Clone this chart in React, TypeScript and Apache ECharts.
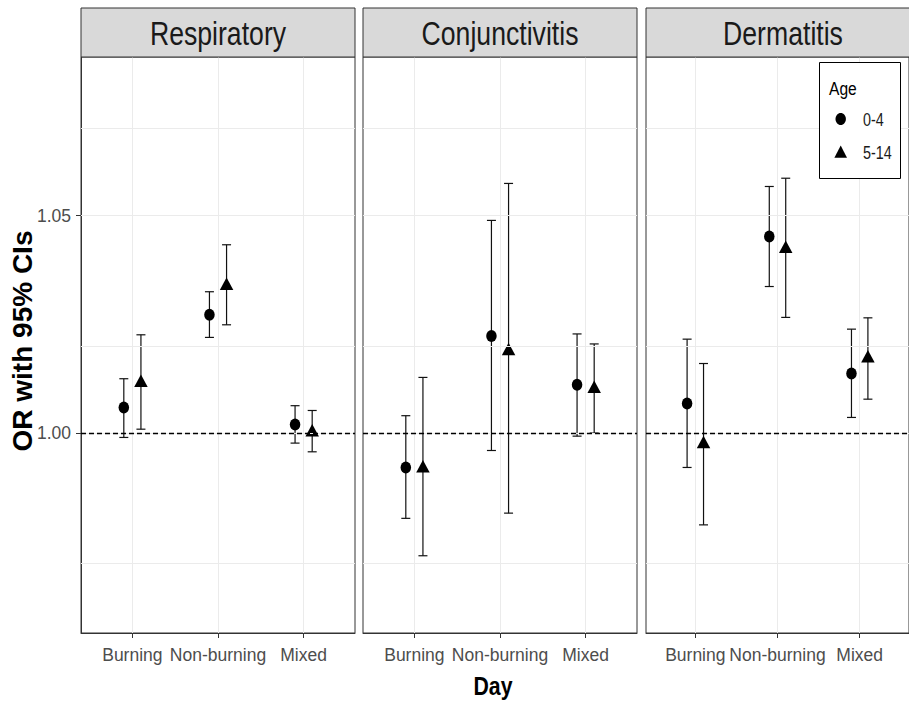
import React, { useEffect, useRef } from 'react';
import * as echarts from 'echarts';

const categories = ['Burning', 'Non-burning', 'Mixed'];
const panels = ['Respiratory', 'Conjunctivitis', 'Dermatitis'];
const ageGroups = ['0-4', '5-14'];
const yTickValues = [1.0, 1.05];
const yGridValues = [0.975, 1.0, 1.025, 1.05, 1.075];
const referenceLine = 1.0;

// Respiratory
const respEst04 = [1.0059, 1.0272, 1.002];
const respLo04 = [0.999, 1.022, 0.9977];
const respHi04 = [1.0125, 1.0325, 1.0063];
const respEst514 = [1.0116, 1.0339, 1.0002];
const respLo514 = [1.0009, 1.0249, 0.9957];
const respHi514 = [1.0226, 1.0433, 1.0052];

// Conjunctivitis
const conjEst04 = [0.9921, 1.0223, 1.0111];
const conjLo04 = [0.9804, 0.996, 0.9993];
const conjHi04 = [1.004, 1.0489, 1.0228];
const conjEst514 = [0.9919, 1.0189, 1.0102];
const conjLo514 = [0.9718, 0.9816, 1.0];
const conjHi514 = [1.0128, 1.0574, 1.0205];

// Dermatitis
const dermEst04 = [1.0068, 1.0452, 1.0137];
const dermLo04 = [0.9921, 1.0337, 1.0036];
const dermHi04 = [1.0216, 1.0567, 1.0239];
const dermEst514 = [0.9975, 1.0424, 1.0172];
const dermLo514 = [0.9789, 1.0266, 1.0078];
const dermHi514 = [1.016, 1.0586, 1.0265];

const panelData = [
  [
    { est: respEst04, lo: respLo04, hi: respHi04 },
    { est: respEst514, lo: respLo514, hi: respHi514 },
  ],
  [
    { est: conjEst04, lo: conjLo04, hi: conjHi04 },
    { est: conjEst514, lo: conjLo514, hi: conjHi514 },
  ],
  [
    { est: dermEst04, lo: dermLo04, hi: dermHi04 },
    { est: dermEst514, lo: dermLo514, hi: dermHi514 },
  ],
];

const Y_MIN = 0.95404;
const Y_MAX = 1.08647;
const X_MIN = 0.4;
const X_MAX = 3.6;
const DODGE = [-0.1, 0.1];

const FONT = "'Liberation Sans', Arial, sans-serif";
const NARROW_X = 0.82;
const ELLIPSE = 'path://M0,-1 A1,1 0 1,1 0,1 A1,1 0 1,1 0,-1 Z';

const GRID_LEFTS = [81, 363, 646];
const GRID_TOP = 57;
const GRID_W = 274;
const GRID_H = 576;

export default function App() {
  const ref = useRef<HTMLDivElement>(null);

  useEffect(() => {
    if (!ref.current) return;
    const chart = echarts.init(ref.current, undefined, { renderer: 'svg' });

    const grids = GRID_LEFTS.map((left) => ({
      left,
      top: GRID_TOP,
      width: GRID_W,
      height: GRID_H,
      show: true,
      borderColor: '#333333',
      borderWidth: 1,
      backgroundColor: '#ffffff',
    }));

    const xAxes = panels.map((_, i) => ({
      type: 'value',
      gridIndex: i,
      min: X_MIN,
      max: X_MAX,
      axisLine: { show: true, lineStyle: { color: '#333333', width: 1 } },
      splitLine: { show: false },
      axisTick: {
        show: true,
        customValues: [1, 2, 3],
        length: 5,
        lineStyle: { color: '#333333', width: 1 },
      },
      axisLabel: {
        customValues: [1, 2, 3],
        showMinLabel: true,
        showMaxLabel: true,
        hideOverlap: false,
        formatter: (v: number) => categories[Math.round(v) - 1] ?? '',
        fontSize: 17.5,
        fontFamily: FONT,
        color: '#4d4d4d',
        margin: 13,
      },
    }));

    const yAxes = panels.map((_, i) => ({
      type: 'value',
      gridIndex: i,
      min: Y_MIN,
      max: Y_MAX,
      splitLine: { show: false },
      axisLine: { show: i === 0, lineStyle: { color: '#333333', width: 1 } },
      axisTick: {
        show: i === 0,
        customValues: yTickValues,
        length: 5,
        lineStyle: { color: '#333333', width: 1 },
      },
      axisLabel: {
        show: i === 0,
        customValues: yTickValues,
        showMinLabel: true,
        showMaxLabel: true,
        formatter: (v: number) => v.toFixed(2),
        fontSize: 17.5,
        fontFamily: FONT,
        color: '#4d4d4d',
        margin: 10,
      },
    }));

    const series: any[] = [];
    panels.forEach((_, i) => {
      series.push({
        type: 'line',
        name: 'grid' + i,
        xAxisIndex: i,
        yAxisIndex: i,
        data: [],
        silent: true,
        z: 1,
        markLine: {
          silent: true,
          symbol: ['none', 'none'],
          label: { show: false },
          lineStyle: { color: '#ebebeb', width: 1, type: 'solid' },
          data: [
            ...yGridValues.map((v) => ({ yAxis: v })),
            ...[1, 2, 3].map((v) => ({ xAxis: v })),
            {
              yAxis: referenceLine,
              lineStyle: { color: '#000000', width: 1.3, type: [5, 3] },
            },
          ],
        },
      });
      panelData[i].forEach((grp, a) => {
        series.push({
          type: 'custom',
          name: ageGroups[a],
          xAxisIndex: i,
          yAxisIndex: i,
          z: 3,
          encode: { x: 0, y: [1, 2] },
          data: categories.map((_, j) => [j + 1 + DODGE[a], grp.lo[j], grp.hi[j]]),
          renderItem: (params: any, api: any) => {
            const x = api.value(0);
            const pLo = api.coord([x, api.value(1)]);
            const pHi = api.coord([x, api.value(2)]);
            const half = 4.5;
            const style = { stroke: '#111111', lineWidth: 1.2 };
            return {
              type: 'group',
              children: [
                { type: 'line', shape: { x1: pLo[0], y1: pLo[1], x2: pHi[0], y2: pHi[1] }, style },
                { type: 'line', shape: { x1: pLo[0] - half, y1: pLo[1], x2: pLo[0] + half, y2: pLo[1] }, style },
                { type: 'line', shape: { x1: pHi[0] - half, y1: pHi[1], x2: pHi[0] + half, y2: pHi[1] }, style },
              ],
            };
          },
        });
        series.push({
          type: 'scatter',
          name: ageGroups[a],
          xAxisIndex: i,
          yAxisIndex: i,
          z: 4,
          symbol: a === 0 ? ELLIPSE : 'triangle',
          symbolSize: a === 0 ? [10.5, 12] : [13.5, 12.5],
          symbolOffset: a === 0 ? [0, 0] : [0, -2],
          itemStyle: { color: '#000000', opacity: 1 },
          data: categories.map((_, j) => [j + 1 + DODGE[a], grp.est[j]]),
        });
      });
    });

    const graphics: any[] = [];
    panels.forEach((p, i) => {
      graphics.push({
        type: 'rect',
        z: 10,
        shape: { x: GRID_LEFTS[i], y: 8, width: GRID_W, height: 49 },
        style: { fill: '#d9d9d9', stroke: '#333333', lineWidth: 1 },
      });
      graphics.push({
        type: 'text',
        z: 11,
        x: GRID_LEFTS[i] + GRID_W / 2,
        y: 34,
        scaleX: NARROW_X,
        style: {
          text: p,
          fontSize: 32.5,
          fontFamily: FONT,
          fill: '#1a1a1a',
          align: 'center',
          verticalAlign: 'middle',
        },
      });
    });
    graphics.push({
      type: 'text',
      z: 11,
      x: 22.5,
      y: 341,
      rotation: Math.PI / 2,
      style: {
        text: 'OR with 95% CIs',
        fontSize: 28,
        fontWeight: 'bold',
        fontFamily: FONT,
        fill: '#000000',
        align: 'center',
        verticalAlign: 'middle',
      },
    });
    graphics.push({
      type: 'text',
      z: 11,
      x: 493,
      y: 686,
      scaleX: 0.85,
      style: {
        text: 'Day',
        fontSize: 25,
        fontWeight: 'bold',
        fontFamily: FONT,
        fill: '#000000',
        align: 'center',
        verticalAlign: 'middle',
      },
    });
    // legend
    graphics.push({
      type: 'rect',
      z: 20,
      shape: { x: 819.5, y: 62.5, width: 81, height: 116 },
      style: { fill: '#ffffff', stroke: '#000000', lineWidth: 1 },
    });
    graphics.push({
      type: 'text',
      z: 21,
      x: 829,
      y: 88,
      scaleX: NARROW_X,
      style: {
        text: 'Age',
        fontSize: 19,
        fontFamily: FONT,
        fill: '#000000',
        align: 'left',
        verticalAlign: 'middle',
      },
    });
    graphics.push({
      type: 'ellipse',
      z: 21,
      shape: { cx: 840.7, cy: 119, rx: 5.2, ry: 6 },
      style: { fill: '#000000' },
    });
    graphics.push({
      type: 'polygon',
      z: 21,
      shape: { points: [[840.7, 145.5], [847, 157.7], [834.4, 157.7]] },
      style: { fill: '#000000' },
    });
    graphics.push({
      type: 'text',
      z: 21,
      x: 863,
      y: 120,
      scaleX: NARROW_X,
      style: {
        text: ageGroups[0],
        fontSize: 17.5,
        fontFamily: FONT,
        fill: '#1a1a1a',
        align: 'left',
        verticalAlign: 'middle',
      },
    });
    graphics.push({
      type: 'text',
      z: 21,
      x: 863,
      y: 153,
      scaleX: NARROW_X,
      style: {
        text: ageGroups[1],
        fontSize: 17.5,
        fontFamily: FONT,
        fill: '#1a1a1a',
        align: 'left',
        verticalAlign: 'middle',
      },
    });

    chart.setOption({
      animation: false,
      backgroundColor: '#ffffff',
      grid: grids,
      xAxis: xAxes,
      yAxis: yAxes,
      series,
      graphic: graphics,
    });

    return () => {
      chart.dispose();
    };
  }, []);

  return (
    <div
      ref={ref}
      style={{ position: 'fixed', left: 0, top: 0, width: 909, height: 702, background: '#fff' }}
    />
  );
}
